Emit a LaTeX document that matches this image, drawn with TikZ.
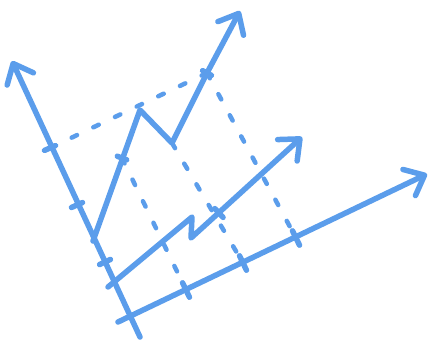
\documentclass[tikz,border=0pt]{standalone}
\usepackage{tikz}
\usetikzlibrary{arrows.meta,calc}
\definecolor{skyline}{RGB}{91,157,235}

\begin{document}
\begin{tikzpicture}[x=1pt,y=-1pt,
  axis/.style={line width=5.5pt,line cap=round,line join=round,skyline,
    -{Straight Barb[round,length=17pt,width=29pt]}},
  guide/.style={line width=4.5pt,line cap=round,skyline,dash pattern=on 6pt off 18pt},
  tickmark/.style={line width=5.5pt,line cap=round,skyline}]
\useasboundingbox (0,0) rectangle (431,341);

% axes and curves
\coordinate (o) at (140,337);
\coordinate (ytip) at (12,61);
\coordinate (xs) at (118,322);
\coordinate (xtip) at (427,174);
\coordinate (ms) at (108,287);
\coordinate (mk) at (192,217);
\coordinate (mj) at (191,238);
\coordinate (mtip) at (302,137);
\coordinate (zs) at (93,241);
\coordinate (zpeak) at (140,110);
\coordinate (zval) at (172,143);
\coordinate (zt) at (207,73);
\coordinate (ztip) at (240,11);

% tick positions
\coordinate (a1) at (50,148);
\coordinate (a2) at (77,205);
\coordinate (a3) at (105,262);
\coordinate (z1) at (122,158);
\coordinate (m1) at (219,213);
\coordinate (b1) at (186,290);
\coordinate (b2) at (243,263);
\coordinate (b3) at (296,238);

% dashed guides
\draw[guide] (a1) -- (zt);
\draw[guide] (zt) -- (b3);
\draw[guide] (zval) -- (b2);
\draw[guide] (z1) -- (b1);

% solid lines
\draw[axis] (o) -- (ytip);
\draw[axis] (xs) -- (xtip);
\draw[axis] (ms) -- (mk) -- (mj) -- (mtip);
\draw[axis] (zs) -- (zpeak) -- (zval) -- (zt) -- (ztip);

% ticks
\foreach \p/\q/\l in {a1/ytip/6pt,a2/ytip/6pt,a3/ytip/6pt,z1/zpeak/5pt,zt/ztip/5pt,m1/mtip/6pt,b1/xtip/8pt,b2/xtip/8pt,b3/xtip/8pt} {
  \draw[tickmark] ($(\p)!\l!90:(\q)$) -- ($(\p)!\l!-90:(\q)$);
}
\end{tikzpicture}
\end{document}
